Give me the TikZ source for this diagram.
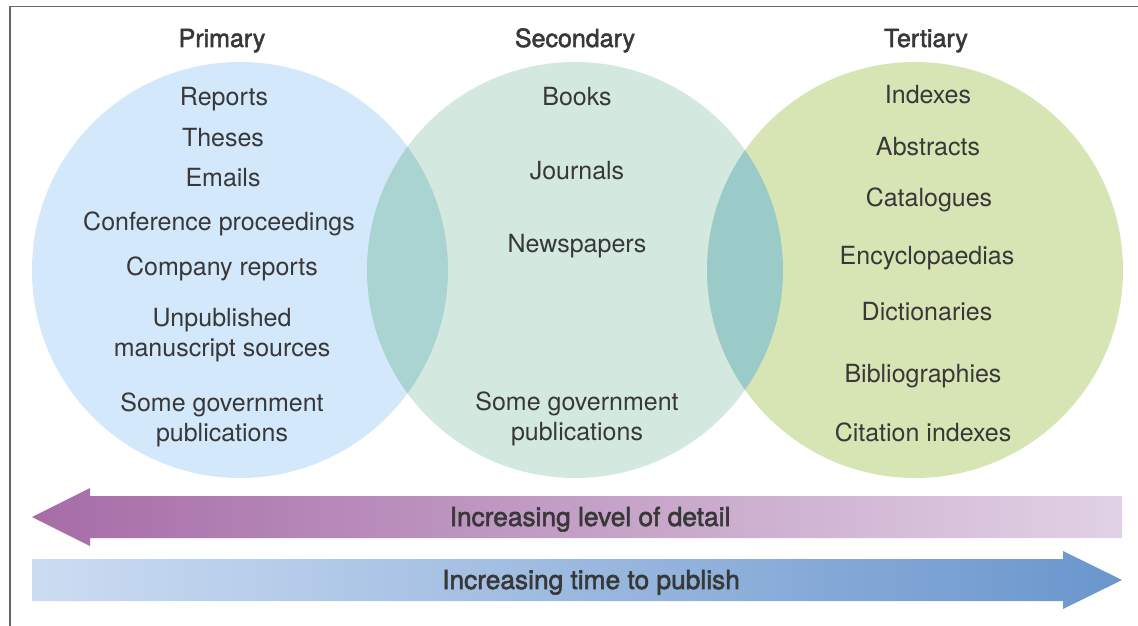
\documentclass[tikz,border=0pt]{standalone}
\usepackage{fontspec}
\setmainfont{TeX Gyre Heros}
\newfontfamily\medfont[FakeBold=2]{TeX Gyre Heros}
\usetikzlibrary{calc}
\definecolor{primfill}{HTML}{D3E8FA}
\definecolor{secfill}{HTML}{D3E8DE}
\definecolor{terfill}{HTML}{D7E5B5}
\definecolor{ovlone}{HTML}{A9D4D2}
\definecolor{ovltwo}{HTML}{9ACBC8}
\definecolor{txtgray}{HTML}{383838}
\definecolor{framegray}{HTML}{666666}
\definecolor{detaildark}{HTML}{A66CA7}
\definecolor{detaillight}{HTML}{E1D2E5}
\definecolor{timelight}{HTML}{CCDCF2}
\definecolor{timedark}{HTML}{6A96CD}
\tikzset{
	item/.style={text=txtgray, font=\fontsize{25}{30}\selectfont, align=center, anchor=base, inner sep=0pt},
	heading/.style={text=txtgray, font=\medfont\fontsize{25}{30}\selectfont, anchor=base, inner sep=0pt},
	arrowlabel/.style={text=txtgray, font=\medfont\fontsize{26.3}{30}\selectfont, anchor=base, inner sep=0pt},
}

\begin{document}
\begin{tikzpicture}[x=1pt, y=-1pt]
			%%%%% START %%%%%
			
			\useasboundingbox (0, 0) rectangle (1138, 626);
			\draw[line width=1.5pt, color=framegray] (10, 626) -- (10, 6.5) -- (1138, 6.5);
			
			\fill[primfill] (240, 270) circle[radius=208pt];
			\fill[secfill] (575, 270) circle[radius=208pt];
			\fill[terfill] (915, 270) circle[radius=208pt];
			\begin{scope}
				\clip (240, 270) circle[radius=208pt];
				\fill[ovlone] (575, 270) circle[radius=208pt];
			\end{scope}
			\begin{scope}
				\clip (915, 270) circle[radius=208pt];
				\fill[ovltwo] (575, 270) circle[radius=208pt];
			\end{scope}
			
			\node[heading] (primary) at (222, 47) {Primary};
			\node[heading] (secondary) at (575, 47) {Secondary};
			\node[heading] (tertiary) at (926, 47) {Tertiary};
			
			\node[item] (reports) at (224, 106) {Reports};
			\node[item] (theses) at (223, 146) {Theses};
			\node[item] (emails) at (223, 186) {Emails};
			\node[item] (conf) at (219, 230) {Conference proceedings};
			\node[item] (company) at (222, 275) {Company reports};
			\node[item] (unpub) at (222, 356) {Unpublished\\manuscript sources};
			\node[item] (govone) at (222, 441) {Some government\\publications};
			
			\node[item] (books) at (577, 105) {Books};
			\node[item] (journals) at (577, 179) {Journals};
			\node[item] (newspapers) at (577, 252) {Newspapers};
			\node[item] (govtwo) at (577, 440) {Some government\\publications};
			
			\node[item] (indexes) at (928, 103) {Indexes};
			\node[item] (abstracts) at (928, 155) {Abstracts};
			\node[item] (catalogues) at (929, 206) {Catalogues};
			\node[item] (encyc) at (927, 264) {Encyclopaedias};
			\node[item] (dict) at (927, 320) {Dictionaries};
			\node[item] (biblio) at (923, 382) {Bibliographies};
			\node[item] (citation) at (923, 441) {Citation indexes};
			
			\shade[left color=detaildark, right color=detaillight] (32, 517) -- (90, 488) -- (90, 496) -- (1122, 496) -- (1122, 538) -- (90, 538) -- (90, 546) -- cycle;
			\node[arrowlabel] (detail) at (590, 526) {Increasing level of detail};
			
			\shade[left color=timelight, right color=timedark] (32, 559) -- (1063, 559) -- (1063, 551) -- (1122, 580) -- (1063, 609) -- (1063, 601) -- (32, 601) -- cycle;
			\node[arrowlabel] (time) at (591, 589) {Increasing time to publish};
			
			%%%%% END %%%%%
\end{tikzpicture}
\end{document}
